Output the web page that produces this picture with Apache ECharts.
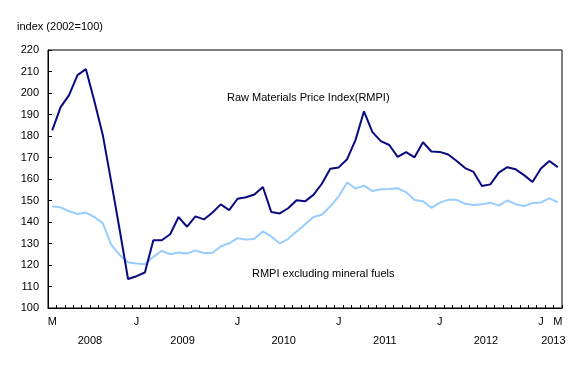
<!DOCTYPE html>
<html>
<head>
<meta charset="utf-8">
<script src="https://cdn.jsdelivr.net/npm/echarts@6/dist/echarts.min.js"></script>
<style>
html,body{margin:0;padding:0;background:#fff;}
#chart{width:588px;height:380px;}
</style>
</head>
<body>
<div id="chart"></div>
<script>
var months = [
 '2008-03','2008-04','2008-05','2008-06','2008-07','2008-08','2008-09','2008-10','2008-11','2008-12',
 '2009-01','2009-02','2009-03','2009-04','2009-05','2009-06','2009-07','2009-08','2009-09','2009-10','2009-11','2009-12',
 '2010-01','2010-02','2010-03','2010-04','2010-05','2010-06','2010-07','2010-08','2010-09','2010-10','2010-11','2010-12',
 '2011-01','2011-02','2011-03','2011-04','2011-05','2011-06','2011-07','2011-08','2011-09','2011-10','2011-11','2011-12',
 '2012-01','2012-02','2012-03','2012-04','2012-05','2012-06','2012-07','2012-08','2012-09','2012-10','2012-11','2012-12',
 '2013-01','2013-02','2013-03'
];
var rmpi = [
 182.6,193.4,199.0,208.3,211.1,196.3,180.5,158.8,136.5,113.5,
 114.8,116.5,131.5,131.5,134.3,142.3,137.8,142.6,141.2,144.3,148.2,145.5,
 150.8,151.5,152.8,156.3,144.6,144.0,146.4,150.1,149.6,152.6,157.8,164.8,
 165.4,169.2,178.2,191.5,181.8,177.6,175.8,170.3,172.5,170.1,177.1,172.8,
 172.6,171.4,168.4,165.1,163.3,156.7,157.5,163.0,165.5,164.5,161.8,158.6,
 164.9,168.4,165.5
];
var rmpiExFuels = [
 147.3,146.8,145.0,143.7,144.4,142.3,139.5,129.5,124.7,121.3,
 120.7,120.3,123.8,126.6,125.0,125.8,125.4,126.7,125.6,125.6,128.6,130.1,
 132.5,131.8,132.2,135.6,133.3,130.0,132.2,135.6,138.8,142.3,143.4,147.3,
 151.9,158.4,155.6,156.9,154.4,155.2,155.3,155.7,153.9,150.2,149.7,146.6,
 149.0,150.3,150.3,148.5,147.9,148.2,149.0,147.6,150.0,148.3,147.4,148.8,
 149.1,151.0,149.2
];
var monthLabelCats = ['2008-03','2009-01','2010-01','2011-01','2012-01','2013-01','2013-03'];
var monthLabels    = ['M','J','J','J','J','J','M'];
var yearLabelCats  = ['2008-07','2009-06','2010-06','2011-06','2012-06','2013-02'];
var yearLabels     = ['2008','2009','2010','2011','2012','2013'];
var yMin = 100, yMax = 220, yStep = 10;
var yTitle = 'index (2002=100)';
var seriesNames = ['Raw Materials Price Index(RMPI)', 'RMPI excluding mineral fuels'];

var FONT = '"Liberation Sans", Arial, sans-serif';
var chart = echarts.init(document.getElementById('chart'), null, {renderer:'canvas'});
chart.setOption({
  animation: false,
  backgroundColor: '#fff',
  textStyle: {fontFamily: FONT},
  title: {
    text: yTitle, left: 17, top: 21, padding: 0,
    textStyle: {fontFamily: FONT, fontSize: 11, fontWeight: 'normal', color: '#000'}
  },
  grid: {left: 48, right: 26, top: 50, bottom: 72, show: true, borderColor: '#000', borderWidth: 1, backgroundColor: 'transparent'},
  xAxis: [{
    type: 'category', data: months, boundaryGap: true,
    axisLine: {lineStyle: {color: '#000', width: 1}},
    axisTick: {show: true, inside: true, length: 3, interval: 0, lineStyle: {color: '#000'}},
    axisLabel: {
      interval: function(i, v){ return monthLabelCats.indexOf(v) >= 0; },
      formatter: function(v){ var k = monthLabelCats.indexOf(v); return k >= 0 ? monthLabels[k] : ''; },
      margin: 8, fontSize: 11, color: '#000', fontFamily: FONT
    },
    splitLine: {show: false}
  }, {
    type: 'category', data: months, boundaryGap: true, position: 'bottom',
    axisLine: {show: false}, axisTick: {show: false},
    axisLabel: {
      interval: function(i, v){ return yearLabelCats.indexOf(v) >= 0; },
      formatter: function(v){ var k = yearLabelCats.indexOf(v); return k >= 0 ? yearLabels[k] : ''; },
      margin: 27, fontSize: 11, color: '#000', fontFamily: FONT, padding: [0,0,0,8]
    },
    splitLine: {show: false}
  }],
  yAxis: {
    type: 'value', min: yMin, max: yMax, interval: yStep,
    axisLine: {show: true, lineStyle: {color: '#000'}},
    axisTick: {show: true, inside: true, length: 4, lineStyle: {color: '#000'}},
    axisLabel: {margin: 9, fontSize: 11, color: '#000', fontFamily: FONT},
    splitLine: {show: false}
  },
  series: [{
    name: seriesNames[0], type: 'line', data: rmpi, xAxisIndex: 0,
    symbol: 'none', lineStyle: {color: '#0a0a80', width: 2}
  }, {
    name: seriesNames[1], type: 'line', data: rmpiExFuels, xAxisIndex: 0,
    symbol: 'none', lineStyle: {color: '#99ccff', width: 2}, z: 1
  }],
  graphic: [{
    type: 'text', left: 227, top: 92,
    style: {text: seriesNames[0], font: '11px ' + FONT, fill: '#000'}
  }, {
    type: 'text', left: 252, top: 268,
    style: {text: seriesNames[1], font: '11px ' + FONT, fill: '#000'}
  }]
});
</script>
</body>
</html>
